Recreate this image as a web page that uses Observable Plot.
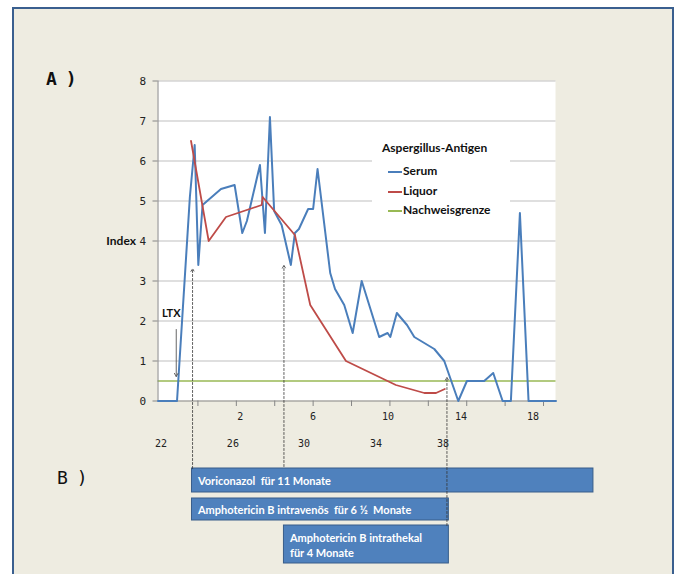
<!DOCTYPE html>
<html>
<head>
<meta charset="utf-8">
<script src="https://cdn.jsdelivr.net/npm/d3@7"></script>
<script src="https://cdn.jsdelivr.net/npm/@observablehq/plot@0.6"></script>
<style>
  html, body { margin: 0; padding: 0; background: #ffffff; overflow: hidden; }
  #wrap { position: relative; width: 681px; height: 574px; overflow: hidden; background: #ffffff; }
  #panel { position: absolute; left: 12px; top: 7px; width: 658px; height: 600px; background: #EEECE1; border: 2px solid #3A5F8F; }
  #chart { position: absolute; left: 0; top: 0; }
  #legend { position: absolute; left: 372px; top: 134px; width: 138px; height: 90px; background: #ffffff; font-family: Lato, "Open Sans", sans-serif; font-weight: bold; font-size: 12px; color: #111; }
  #legend .title { position: absolute; left: 10px; top: 6px; white-space: nowrap; }
  #legend .item { position: absolute; left: 16px; height: 16px; line-height: 16px; white-space: nowrap; }
  #legend .item span.sw { display: inline-block; width: 14px; height: 2px; vertical-align: middle; margin-right: 1px; }
  .panelLabel { position: absolute; font-family: "DejaVu Sans Mono", monospace; font-size: 18px; color: #111; letter-spacing: -1px; }
</style>
</head>
<body>
<div id="wrap">
  <div id="panel"></div>
  <div id="chart"></div>
  <div id="legend"></div>
  <div class="panelLabel" id="labA" style="left:46px; top:68px; font-weight:bold;">A )</div>
  <div class="panelLabel" id="labB" style="left:57px; top:467px;">B )</div>
</div>
<script>
// ---------- data ----------
const serumMonth = [-2.08,-1.09,-0.42,-0.17,0.02,0.24,1.20,1.91,2.31,2.55,3.23,3.49,3.75,3.97,4.36,4.84,5.05,5.26,5.74,6.00,6.23,6.89,7.14,7.62,8.06,8.53,9.44,9.88,10.02,10.36,10.89,11.27,12.31,12.83,13.56,14.01,14.91,15.38,15.87,16.30,16.77,17.22,18.65];
const serumValue = [0,0,5.1,6.4,3.4,4.9,5.3,5.4,4.2,4.5,5.9,4.2,7.1,4.75,4.4,3.4,4.2,4.3,4.8,4.8,5.8,3.2,2.8,2.4,1.7,3.0,1.6,1.7,1.6,2.2,1.9,1.6,1.3,1.0,0,0.5,0.5,0.7,0,0,4.7,0,0];
const liquorMonth = [-0.36,0.56,1.46,3.32,3.37,5.05,5.85,7.71,10.31,11.79,12.40,12.86];
const liquorValue = [6.5,4.0,4.6,4.9,5.1,4.15,2.4,1.0,0.4,0.2,0.2,0.3];
const detectionLimit = 0.5;

const yTicks = [0,1,2,3,4,5,6,7,8];
const xTicks = [0,2,4,6,8,10,12,14,16,18];
const xLabels1 = ["2","6","10","14","18"];
const xLabels1Pos = [2.2,6.0,9.9,13.7,17.45];
const xLabels2 = ["22","26","30","34","38"];
const xLabels2Pos = [-1.92,1.82,5.52,9.27,12.76];

const treatmentNames = ["Voriconazol  für 11 Monate","Amphotericin B intravenös  für 6 ½  Monate","Amphotericin B intrathekal\nfür 4 Monate"];
const treatmentStart = [-0.31,-0.31,4.48];
const treatmentEnd = [20.6,13.07,13.07];

const eventMonth = [-0.28,4.48,12.97];
const eventTip = [3.31,3.39,0.59];
const ltxMonth = -1.13;

const seriesNames = ["Serum","Liquor","Nachweisgrenze"];
const seriesColors = ["#4A7EBB","#BE4B48","#98B954"];

// ---------- scales / layout ----------
const xMin = -2.08, xMax = 18.65;
const pxL = 157.5, pxR = 555.5, pxBottom = 400.5, pxTop = 80.5;
const yAt = p => (pxBottom - p) / ((pxBottom - pxTop) / 8);
const xAt = p => xMin + (p - pxL) * (xMax - xMin) / (pxR - pxL);

const serum = serumMonth.map((m,i) => ({m, v: serumValue[i]}));
const liquor = liquorMonth.map((m,i) => ({m, v: liquorValue[i]}));
const rowTop = [468, 498, 525].map(yAt);
const rowBottom = [492, 520, 563].map(yAt);
const treatments = treatmentNames.map((name,i) => ({name, start: treatmentStart[i], end: treatmentEnd[i], y1: rowTop[i], y2: rowBottom[i]}));
const arrowBottom = [468, 466, 525].map(yAt);
const events = eventMonth.map((m,i) => ({m, tip: eventTip[i], bottom: arrowBottom[i]}));

const mono = "'DejaVu Sans Mono', monospace";
const sans = "Lato, 'Open Sans', sans-serif";
const axisColor = "#868686";

const chart = Plot.plot({
  width: 681,
  height: 574,
  margin: 0,
  style: {background: "transparent", overflow: "visible"},
  x: {domain: [xMin, xMax], range: [pxL, pxR], axis: null},
  y: {domain: [0, 8], range: [pxBottom, pxTop], axis: null},
  marks: [
    Plot.rect([0], {x1: xMin, x2: xMax, y1: 0, y2: 8, fill: "white"}),
    Plot.ruleY(yTicks.filter(d => d > 0), {x1: xMin, x2: xMax, stroke: "#BFBFBF", strokeWidth: 1}),
    Plot.ruleY([detectionLimit], {x1: xMin, x2: xMax, stroke: seriesColors[2], strokeWidth: 1.5}),
    Plot.ruleX([xMin], {y1: 0, y2: 8, stroke: axisColor}),
    Plot.ruleY([0], {x1: xMin, x2: xMax, stroke: axisColor}),
    Plot.ruleX(xTicks, {y1: 0, y2: yAt(406), stroke: axisColor}),
    Plot.ruleY(yTicks, {x1: xAt(152.5), x2: xMin, stroke: axisColor}),
    Plot.text(yTicks, {x: xMin, y: d => d, text: d => String(d), dx: -12, textAnchor: "end", fontFamily: mono, fontSize: 11, fill: "#222"}),
    Plot.text(["Index"], {x: xMin, y: 4, text: d => d, dx: -22, textAnchor: "end", fontFamily: sans, fontWeight: "bold", fontSize: 12, fill: "#111"}),
    Plot.text(xLabels1, {x: (d,i) => xLabels1Pos[i], y: 0, text: d => d, dy: 16, fontFamily: mono, fontSize: 10, fill: "#222"}),
    Plot.text(xLabels2, {x: (d,i) => xLabels2Pos[i], y: 0, text: d => d, dy: 43, fontFamily: mono, fontSize: 10, fill: "#222"}),
    Plot.line(serum, {x: "m", y: "v", stroke: seriesColors[0], strokeWidth: 2, strokeLinejoin: "round"}),
    Plot.line(liquor, {x: "m", y: "v", stroke: seriesColors[1], strokeWidth: 1.8, strokeLinejoin: "round"}),
    // LTX annotation
    Plot.arrow([ltxMonth], {x1: d => d, x2: d => d, y1: yAt(329), y2: yAt(376), stroke: "#555", strokeWidth: 0.9, headLength: 6}),
    Plot.text(["LTX"], {x: ltxMonth, y: yAt(313), text: d => d, dx: -5, fontFamily: sans, fontWeight: "bold", fontSize: 11, fill: "#111"}),
    // treatment bars
    Plot.rect(treatments, {x1: "start", x2: "end", y1: "y1", y2: "y2", fill: "#4F81BD", stroke: "#385D8A", strokeWidth: 1}),
    Plot.text(treatments, {x: "start", y: d => (d.y1 + d.y2) / 2, text: "name", dx: 6, textAnchor: "start", fill: "white", fontFamily: sans, fontWeight: "bold", fontSize: 11, lineHeight: 1.35}),
    // event arrows (dotted)
    Plot.arrow(events, {x1: "m", x2: "m", y1: "bottom", y2: "tip", stroke: "#333", strokeWidth: 0.8, strokeDasharray: "2,2", headLength: 6})
  ]
});
document.getElementById("chart").appendChild(chart);

// legend
const lg = document.getElementById("legend");
const t = document.createElement("div");
t.className = "title"; t.textContent = "Aspergillus-Antigen";
lg.appendChild(t);
const itemTops = [29, 49, 68];
seriesNames.forEach((n,i) => {
  const it = document.createElement("div");
  it.className = "item"; it.style.top = itemTops[i] + "px";
  const sw = document.createElement("span");
  sw.className = "sw"; sw.style.background = seriesColors[i];
  it.appendChild(sw);
  it.appendChild(document.createTextNode(n));
  lg.appendChild(it);
});
</script>
</body>
</html>
